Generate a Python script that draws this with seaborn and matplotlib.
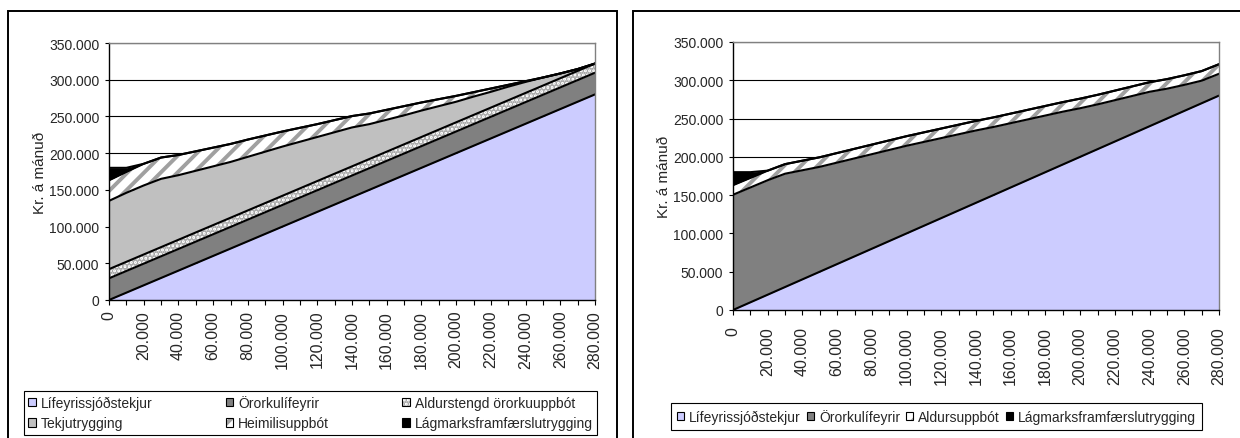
import numpy as np
import matplotlib
matplotlib.use("Agg")
import matplotlib.pyplot as plt
from matplotlib.patches import Patch, Rectangle
from matplotlib.legend_handler import HandlerTuple
import seaborn as sns

# Lífeyrissjóðstekjur á mánuði (x-ás)
tekjur = [0, 10000, 20000, 30000, 40000, 50000, 60000, 70000, 80000, 90000,
          100000, 110000, 120000, 130000, 140000, 150000, 160000, 170000, 180000,
          190000, 200000, 210000, 220000, 230000, 240000, 250000, 260000, 270000,
          280000]

# Vinstri mynd: örorkulífeyrisþegi sem býr einn
v_lifeyrissjodstekjur = [0, 10000, 20000, 30000, 40000, 50000, 60000, 70000, 80000,
                         90000, 100000, 110000, 120000, 130000, 140000, 150000, 160000,
                         170000, 180000, 190000, 200000, 210000, 220000, 230000, 240000,
                         250000, 260000, 270000, 280000]
v_ororkulifeyrir = [29500, 29500, 29500, 29500, 29500, 29500, 29500, 29500, 29500,
                    29500, 29500, 29500, 29500, 29500, 29500, 29500, 29500, 29500,
                    29500, 29500, 29500, 29500, 29500, 29500, 29500, 29500, 29500,
                    29500, 29500]
v_aldurstengd = [12500, 12500, 12500, 12500, 12500, 12500, 12500, 12500, 12500,
                 12500, 12500, 12500, 12500, 12500, 12500, 12500, 12500, 12500,
                 12500, 12500, 12500, 12500, 12500, 12500, 12500, 12500, 12500,
                 12500, 12500]
v_tekjutrygging = [93000, 94000, 94000, 93000, 88000, 84000, 80000, 76000, 73000,
                   70000, 67000, 63500, 60000, 56500, 53000, 47500, 43500, 39500,
                   36000, 32000, 28000, 25000, 21500, 18500, 15000, 11000, 6500,
                   2500, 0]
v_heimilisuppbot = [28000, 28500, 29500, 29000, 27500, 26500, 25500, 24500, 23500,
                    22000, 20500, 19000, 17500, 16500, 15500, 14500, 13500, 12500,
                    11000, 9500, 8000, 6000, 4500, 2500, 1000, 0, 0, 0, 0]
v_lagmarks = [17000, 5500, 0, 0, 0, 0, 0, 0, 0, 0, 0, 0, 0, 0, 0, 0, 0, 0, 0, 0,
              0, 0, 0, 0, 0, 0, 0, 0, 0]

# Hægri mynd: ellilífeyrisþegi
h_lifeyrissjodstekjur = [0, 10000, 20000, 30000, 40000, 50000, 60000, 70000, 80000,
                         90000, 100000, 110000, 120000, 130000, 140000, 150000, 160000,
                         170000, 180000, 190000, 200000, 210000, 220000, 230000, 240000,
                         250000, 260000, 270000, 280000]
h_ororkulifeyrir = [150500, 150000, 149500, 148000, 142500, 137000, 132500, 128000,
                    123500, 119000, 114500, 109500, 104500, 99500, 94500, 89000, 84000,
                    79000, 74000, 69000, 63500, 58500, 54000, 49500, 45000, 39000,
                    34000, 29500, 28500]
h_aldursuppbot = [12500, 12500, 12500, 12500, 12500, 12500, 12500, 12500, 12500,
                  12500, 12500, 12500, 12500, 12500, 12500, 12500, 12500, 12500,
                  12500, 12500, 12500, 12500, 12500, 12500, 12500, 12500, 12500,
                  12500, 12500]
h_lagmarks = [17000, 7500, 0, 0, 0, 0, 0, 0, 0, 0, 0, 0, 0, 0, 0, 0, 0, 0, 0, 0,
              0, 0, 0, 0, 0, 0, 0, 0, 0]

y_ticks = [0, 50000, 100000, 150000, 200000, 250000, 300000, 350000]

sns.set_theme(style="white")
plt.rcParams["font.family"] = ["Liberation Sans", "DejaVu Sans"]
plt.rcParams["hatch.linewidth"] = 2.8

LAVENDER = "#CCCCFF"
DARK = "#808080"
LIGHT = "#C0C0C0"
HATCH_GREY = "#A0A0A0"

# (fill colour, hatch colour, hatch pattern)
STYLES = {
    "Lífeyrissjóðstekjur": (LAVENDER, None, None),
    "Örorkulífeyrir": (DARK, None, None),
    "Aldurstengd örorkuuppbót": ("white", "#A8A8A8", "...."),
    "Tekjutrygging": (LIGHT, None, None),
    "Heimilisuppbót": ("white", HATCH_GREY, "//"),
    "Aldursuppbót": ("white", HATCH_GREY, "//"),
    "Lágmarksframfærslutrygging": ("black", None, None),
}


def fmt(v):
    return "0" if v == 0 else f"{int(v):,}".replace(",", ".")


def legend_handle(name):
    face, hcol, hatch = STYLES[name]
    if hatch is None:
        return Patch(facecolor=face, edgecolor="black", linewidth=0.8)
    return (Patch(facecolor=face, edgecolor=hcol, hatch=hatch, linewidth=0),
            Patch(facecolor="none", edgecolor="black", linewidth=0.8))


def draw_panel(ax, layers, xpad):
    x = np.array(tekjur, dtype=float)
    base = np.zeros_like(x)
    tops = []
    for name, vals in layers:
        face, hcol, hatch = STYLES[name]
        top = base + np.array(vals, dtype=float)
        if hatch is None:
            ax.fill_between(x, base, top, facecolor=face, edgecolor=face,
                            linewidth=0, zorder=2)
        else:
            ax.fill_between(x, base, top, facecolor=face, edgecolor=hcol,
                            hatch=hatch, linewidth=0, zorder=2)
        tops.append(top)
        base = top
    for top in tops:
        sns.lineplot(x=x, y=top, ax=ax, color="black", linewidth=1.5,
                     legend=False, zorder=4)

    ax.set_xlim(0, 280000)
    ax.set_ylim(0, 350000)
    ax.set_yticks(y_ticks)
    ax.set_yticklabels([fmt(v) for v in y_ticks], fontsize=10)
    ax.set_xticks(tekjur)
    ax.set_xticklabels([fmt(v) if i % 2 == 0 else "" for i, v in enumerate(tekjur)],
                       rotation=90, fontsize=11.5)
    ax.tick_params(axis="y", direction="out", length=3, width=0.8, color="black",
                   pad=4, left=True)
    ax.tick_params(axis="x", direction="out", length=3.6, width=0.8, color="black",
                   pad=xpad, bottom=True)
    ax.grid(axis="y", color="black", linewidth=0.8, zorder=1)
    ax.set_axisbelow(True)
    for side in ("left", "bottom"):
        ax.spines[side].set_color("black")
        ax.spines[side].set_linewidth(1.0)
        ax.spines[side].set_zorder(5)
    for side in ("top", "right"):
        ax.spines[side].set_color("#808080")
        ax.spines[side].set_linewidth(1.0)
        ax.spines[side].set_zorder(5)
    ax.set_xlabel("")
    ax.set_ylabel("Kr. á mánuð", fontsize=11)
    ax.yaxis.set_label_coords(-0.128, 0.5)


W, H = 1240, 439
fig = plt.figure(figsize=(W / 100, H / 100), dpi=100)
fig.patch.set_facecolor("white")

ax1 = fig.add_axes([109 / W, 1 - 301 / H, 486 / W, 257 / H])
ax2 = fig.add_axes([733 / W, 1 - 311 / H, 486 / W, 268 / H])

left_layers = [
    ("Lífeyrissjóðstekjur", v_lifeyrissjodstekjur),
    ("Örorkulífeyrir", v_ororkulifeyrir),
    ("Aldurstengd örorkuuppbót", v_aldurstengd),
    ("Tekjutrygging", v_tekjutrygging),
    ("Heimilisuppbót", v_heimilisuppbot),
    ("Lágmarksframfærslutrygging", v_lagmarks),
]
right_layers = [
    ("Lífeyrissjóðstekjur", h_lifeyrissjodstekjur),
    ("Örorkulífeyrir", h_ororkulifeyrir),
    ("Aldursuppbót", h_aldursuppbot),
    ("Lágmarksframfærslutrygging", h_lagmarks),
]
draw_panel(ax1, left_layers, xpad=3.5)
draw_panel(ax2, right_layers, xpad=8.0)

tuple_handler = {tuple: HandlerTuple(ndivide=1, pad=0)}

# Legends (left one laid out in three columns, row by row)
order = ["Lífeyrissjóðstekjur", "Tekjutrygging", "Örorkulífeyrir",
         "Heimilisuppbót", "Aldurstengd örorkuuppbót", "Lágmarksframfærslutrygging"]
leg1 = fig.legend([legend_handle(n) for n in order], order,
                  loc="upper left",
                  bbox_to_anchor=(24 / W, 1 - 392 / H, (597 - 24) / W, 0),
                  bbox_transform=fig.transFigure, mode="expand", ncol=3,
                  fontsize=10, frameon=True, fancybox=False, edgecolor="black",
                  framealpha=1, borderpad=0.3, labelspacing=0.45,
                  handlelength=0.55, handleheight=0.55, handletextpad=0.35,
                  borderaxespad=0, handler_map=tuple_handler)
leg1.get_frame().set_linewidth(0.8)

names2 = [n for n, _ in right_layers]
leg2 = fig.legend([legend_handle(n) for n in names2], names2,
                  loc="center",
                  bbox_to_anchor=(936.5 / W, 1 - 417.5 / H),
                  bbox_transform=fig.transFigure, ncol=4,
                  fontsize=10, frameon=True, fancybox=False, edgecolor="black",
                  framealpha=1, borderpad=0.4, columnspacing=0.4,
                  handlelength=0.55, handleheight=0.55, handletextpad=0.35,
                  borderaxespad=0, handler_map=tuple_handler)
leg2.get_frame().set_linewidth(0.8)

# Chart borders
fig.add_artist(Rectangle((8 / W, -0.05), (617 - 8) / W, 1.05 - 12 / H,
                         transform=fig.transFigure, fill=False,
                         edgecolor="black", linewidth=1.4))
fig.add_artist(Rectangle((633 / W, -0.05), 0.6, 1.05 - 12 / H,
                         transform=fig.transFigure, fill=False,
                         edgecolor="black", linewidth=1.4))

fig.savefig("out.png", dpi=100)
